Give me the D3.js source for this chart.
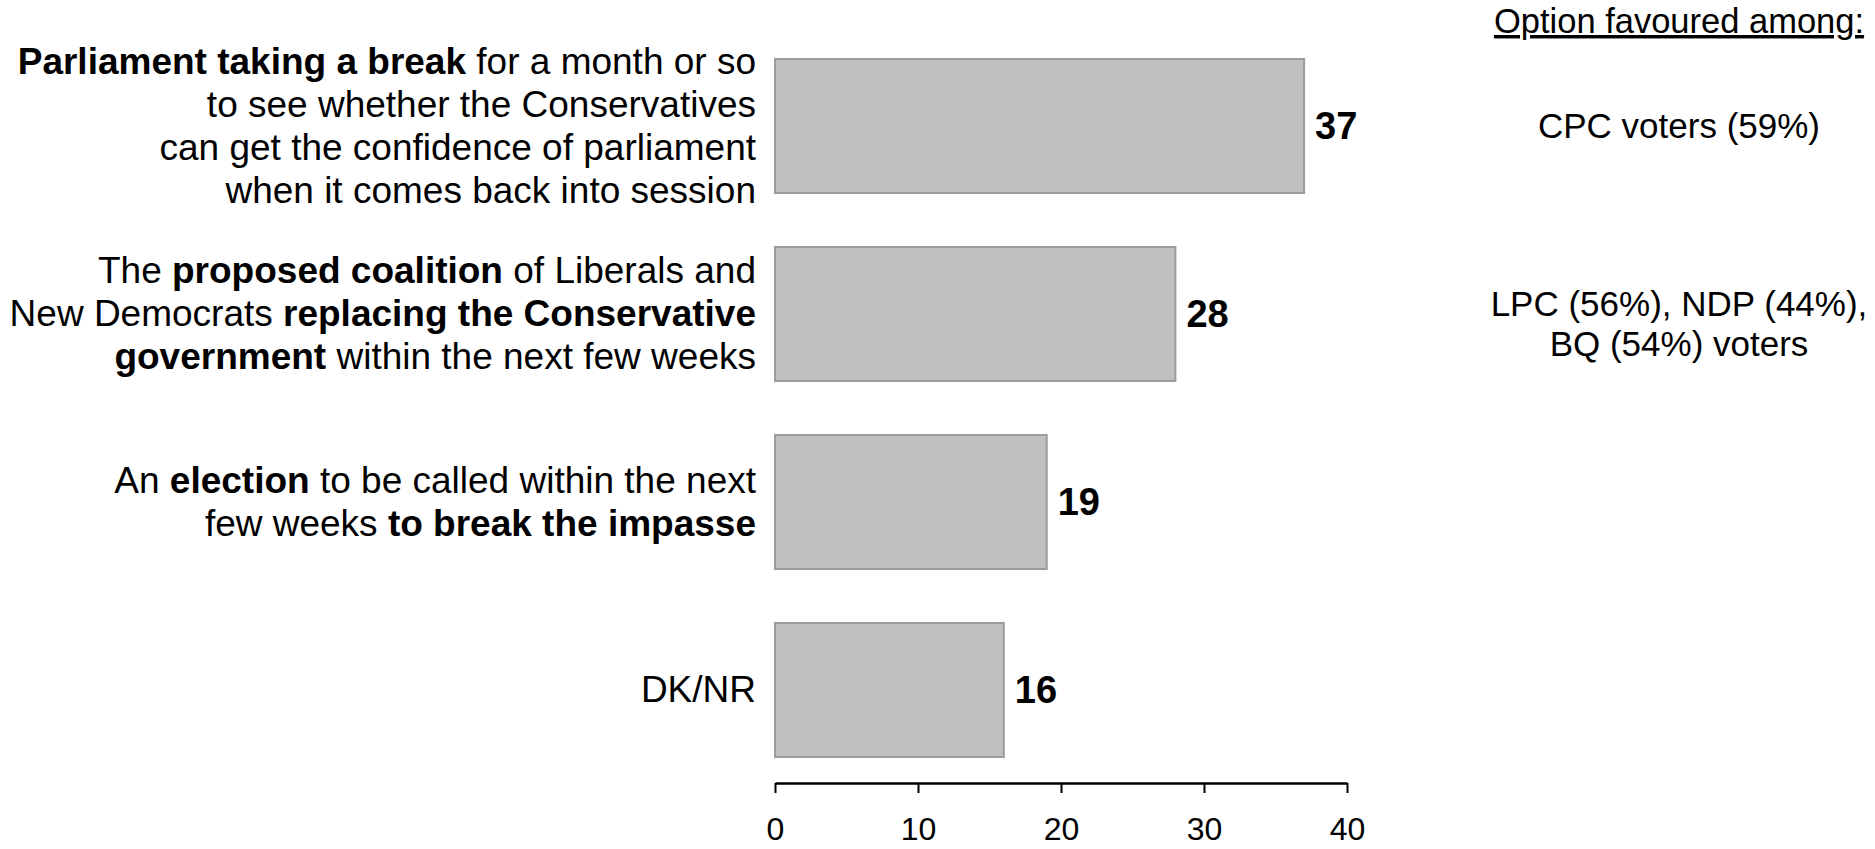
<!DOCTYPE html>
<html>
<head>
<meta charset="utf-8">
<script src="https://cdn.jsdelivr.net/npm/d3@7"></script>
<style>
  html, body { margin: 0; padding: 0; background: #ffffff; }
  svg { display: block; font-family: "Liberation Sans", Arial, Helvetica, sans-serif; }
</style>
</head>
<body>
<svg id="chart" width="1875" height="849"></svg>
<script>
// ---- Data ----
const categories = ["break", "coalition", "election", "dknr"];
const categoryLabels = [
  ["**Parliament taking a break** for a month or so",
   "to see whether the Conservatives",
   "can get the confidence of parliament",
   "when it comes back into session"],
  ["The **proposed coalition** of Liberals and",
   "New Democrats **replacing the Conservative**",
   "**government** within the next few weeks"],
  ["An **election** to be called within the next",
   "few weeks **to break the impasse**"],
  ["DK/NR"]
];
const values = [37, 28, 19, 16];
const favouredTitle = "Option favoured among:";
const favouredAmong = [
  ["CPC voters (59%)"],
  ["LPC (56%), NDP (44%),", "BQ (54%) voters"],
  [],
  []
];
const tickValues = [0, 10, 20, 30, 40];

// ---- Chart ----
const svg = d3.select("#chart");

const x = d3.scaleLinear().domain([0, 40]).range([775, 1347]);
const y = d3.scaleBand().domain(categories).range([32, 784])
  .paddingInner(0.287).paddingOuter(0.1435);

// bars
svg.append("g").selectAll("rect")
  .data(values)
  .join("rect")
  .attr("x", x(0))
  .attr("y", (d, i) => y(categories[i]))
  .attr("width", d => x(d) - x(0))
  .attr("height", y.bandwidth())
  .attr("fill", "#c0c0c0")
  .attr("stroke", "#9c9c9c")
  .attr("stroke-width", 2);

// value labels
svg.append("g").selectAll("text")
  .data(values)
  .join("text")
  .attr("x", d => x(d) + 11)
  .attr("y", (d, i) => y(categories[i]) + y.bandwidth() / 2)
  .attr("dy", "0.35em")
  .attr("font-size", 38)
  .attr("font-weight", "bold")
  .attr("fill", "#000")
  .text(d => d);

// category labels (rich text)
const lineH = 43;
const labG = svg.append("g");
categoryLabels.forEach((lines, i) => {
  const cy = y(categories[i]) + y.bandwidth() / 2;
  const n = lines.length;
  lines.forEach((line, k) => {
    const t = labG.append("text")
      .attr("x", 756)
      .attr("y", cy + (k - (n - 1) / 2) * lineH + 12)
      .attr("text-anchor", "end")
      .attr("font-size", 37)
      .attr("fill", "#000");
    const parts = line.split("**");
    parts.forEach((p, j) => {
      if (p === "") return;
      t.append("tspan")
        .attr("font-weight", j % 2 === 1 ? "bold" : "normal")
        .text(p);
    });
  });
});

// axis
const axis = d3.axisBottom(x).tickValues(tickValues).tickSize(10).tickPadding(24).tickSizeOuter(0);
const axG = svg.append("g").attr("transform", "translate(0,783)").call(axis);
axG.select(".domain").attr("stroke", "#000").attr("stroke-width", 2.5);
axG.selectAll(".tick line").attr("stroke", "#000").attr("stroke-width", 2);
axG.selectAll(".tick text")
  .attr("font-size", 32)
  .attr("fill", "#000")
  .attr("font-family", "'Liberation Sans', Arial, sans-serif");

// right column
const rx = 1679;
svg.append("text")
  .attr("x", rx).attr("y", 33)
  .attr("text-anchor", "middle")
  .attr("font-size", 34.5)
  .attr("text-decoration", "underline")
  .attr("fill", "#000")
  .text(favouredTitle);

const favG = svg.append("g");
favouredAmong.forEach((lines, i) => {
  const cy = y(categories[i]) + y.bandwidth() / 2;
  const n = lines.length;
  lines.forEach((line, k) => {
    favG.append("text")
      .attr("x", rx)
      .attr("y", cy + 12 - (n - 1) * 10 + k * 40)
      .attr("text-anchor", "middle")
      .attr("font-size", 35)
      .attr("fill", "#000")
      .text(line);
  });
});
</script>
</body>
</html>
